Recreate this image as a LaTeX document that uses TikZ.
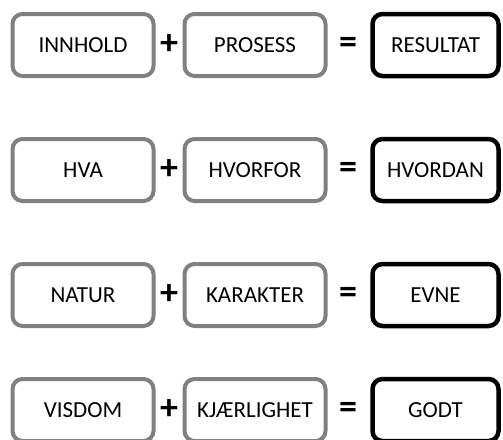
\documentclass[tikz,border=0pt]{standalone}
\usepackage{fontspec}
\setmainfont{Carlito}
\usetikzlibrary{positioning}

\tikzset{
    part/.style = {draw=gray, line width=4pt, rounded corners=10pt,
        minimum width=141pt, minimum height=62pt,
        font=\fontsize{23}{28}\selectfont, text height=15pt, text depth=0pt},
    sum/.style = {draw=black, line width=4.5pt, rounded corners=10pt,
        minimum width=126pt, minimum height=62pt,
        font=\fontsize{23}{28}\selectfont, text height=15pt, text depth=0pt},
    sign/.style = {font=\bfseries\fontsize{36}{36}\selectfont, inner sep=0pt}
}

\begin{document}
\begin{tikzpicture} [x=1pt, y=-1pt,
            on grid]

            \useasboundingbox (0,0) rectangle (503,439);

            % Row 1
            \node (a1) [part] at (83,45) {INNHOLD};
            \node (p1) [sign, right = 86pt of a1] {+};
            \node (b1) [part, right = 86pt of p1] {PROSESS};
            \node (e1) [sign, right = 93pt of b1] {=};
            \node (c1) [sum, right = 87.5pt of e1] {RESULTAT};

            % Row 2
            \node (a2) [part, below = 125pt of a1] {HVA};
            \node (p2) [sign, right = 86pt of a2] {+};
            \node (b2) [part, right = 86pt of p2] {HVORFOR};
            \node (e2) [sign, right = 93pt of b2] {=};
            \node (c2) [sum, right = 87.5pt of e2] {HVORDAN};

            % Row 3
            \node (a3) [part, below = 125pt of a2] {NATUR};
            \node (p3) [sign, right = 86pt of a3] {+};
            \node (b3) [part, right = 86pt of p3] {KARAKTER};
            \node (e3) [sign, right = 93pt of b3] {=};
            \node (c3) [sum, right = 87.5pt of e3] {EVNE};

            % Row 4
            \node (a4) [part, below = 115pt of a3] {VISDOM};
            \node (p4) [sign, right = 86pt of a4] {+};
            \node (b4) [part, right = 86pt of p4] {KJÆRLIGHET};
            \node (e4) [sign, right = 93pt of b4] {=};
            \node (c4) [sum, right = 87.5pt of e4] {GODT};
        \end{tikzpicture}
\end{document}
